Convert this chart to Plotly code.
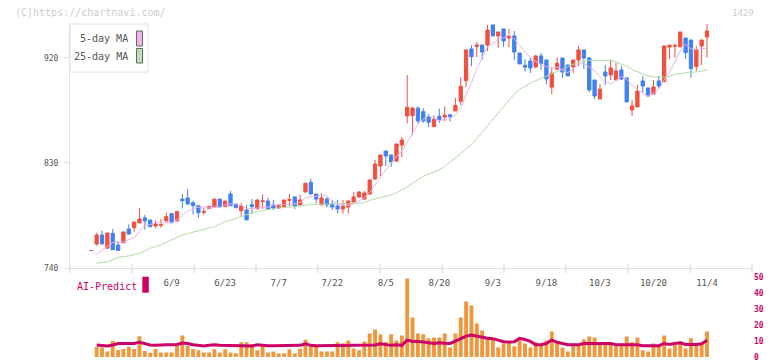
import plotly.graph_objects as go

W, H = 772, 361

# ---------------- data ----------------
tick_idx = [15, 25, 35, 45, 55, 65, 75, 85, 95, 105, 115]
tick_labels = ["6/9", "6/23", "7/7", "7/22", "8/5", "8/20", "9/3", "9/18", "10/3", "10/20", "11/4"]

opens = [755, 760.6, 768.3, 757, 769.7, 759.7, 761.7, 773.4, 774.6, 778.6,
         782.9, 781.1, 776, 776.6, 780.3, 786.6, 780.3, 799, 800, 796,
         793.4, 787.7, 790.9, 792.3, 799.1, 792.6, 803.4, 794.9, 789.1, 789.7,
         794.3, 790.6, 796.9, 797.4, 794, 791.4, 792.3, 798, 800.9, 794,
         805.1, 813.4, 803.4, 794, 799.1, 794.9, 793.1, 790.6, 792.3, 796.6,
         800.9, 799.1, 803.4, 816.3, 827.4, 840.3, 836.9, 831.7, 845.4, 870.3,
         870.6, 877, 874, 870, 861.1, 870, 869.4, 871.4, 874.6, 882.9,
         900.6, 927.7, 929.7, 931.1, 931.1, 948.3, 938.9, 944.9, 937.1, 938.9,
         924.3, 913.7, 917.4, 912.3, 921.7, 918.3, 895, 910.4, 920, 914,
         912.3, 918.3, 926.9, 920, 901.1, 884.9, 908, 905.4, 901.1, 909.7,
         902.9, 875.4, 878, 900.3, 894.3, 889.1, 900.3, 899.7, 929.4, 930,
         929.7, 937.1, 935.4, 912.6, 930.3, 938]
highs = [755, 770.3, 772, 770, 773.4, 763.1, 771.1, 777.4, 779.4, 791.4,
         785.4, 781.1, 781, 782, 787.4, 786.6, 789, 803.4, 807.7, 797.7,
         793.4, 791.4, 792.9, 799.1, 799.1, 797.4, 806, 794.9, 795.7, 794.3,
         799.1, 798.6, 803.1, 800.3, 798.3, 794.9, 798.3, 803.4, 801.7, 802.6,
         813.1, 816.6, 803.4, 804.3, 800.9, 798.3, 798.3, 798.3, 798, 805.1,
         806, 806, 816.6, 832.6, 836.9, 840.3, 836.9, 846.3, 852.3, 905.4,
         877.7, 878.6, 877, 872, 871, 876.6, 878.6, 871.4, 885.7, 903.4,
         926.9, 930.9, 933.7, 931.1, 948.3, 948.3, 942.3, 944.9, 944.9, 943.1,
         924.3, 918.9, 920, 922.6, 924.3, 918.3, 911.7, 920.6, 920, 914,
         918.3, 930.3, 926.9, 920.9, 901.1, 897.7, 914, 918.3, 915.7, 913.1,
         902.9, 884, 896.9, 904.6, 894.3, 901.1, 904.6, 930.3, 931.1, 932.6,
         942.3, 937.1, 935.4, 930.3, 935.4, 949.1]
lows = [755, 759.1, 760, 757, 755.4, 755.1, 761.7, 769, 771.1, 778.6,
        772.9, 775.4, 774.3, 774.6, 780.3, 778.9, 780.3, 791.1, 794.3, 786,
        782.9, 785.7, 790.9, 792.3, 792.3, 792.6, 793.4, 791.7, 784.9, 780.3,
        786.3, 790.6, 790.6, 790.6, 789.7, 790.6, 792.3, 792.9, 790.6, 794,
        805.1, 803.4, 795.4, 794, 792, 789.7, 787.1, 786.6, 786.6, 796.6,
        800, 798.3, 802.6, 815.4, 818.9, 827.4, 826.6, 830.9, 835.1, 864,
        853.9, 863.7, 864.5, 860.6, 861.1, 864.3, 865.7, 865.7, 874.6, 879.4,
        894.9, 912.9, 920.6, 918.6, 926, 938.9, 928.6, 929.4, 929.4, 918.3,
        914.9, 908.3, 907.1, 911.4, 909.7, 897.4, 889, 910.4, 902.9, 904.6,
        907.1, 913.1, 910.6, 890.9, 884.9, 884.9, 896.9, 901.1, 901.1, 901.1,
        882.3, 870.3, 878, 890, 886.6, 889.1, 894.3, 899.4, 919.1, 920.3,
        929, 919.4, 903.1, 908.9, 914, 920.3]
closes = [755, 768.3, 760.6, 770, 755.7, 755.1, 770.9, 769.1, 779.4, 782,
          780.3, 775.4, 777.7, 777, 784, 778.9, 788.3, 797.7, 794.9, 793.4,
          787.4, 788.3, 792.9, 799.1, 792.3, 797.4, 793.4, 791.7, 793.1, 781.4,
          792.6, 798.3, 797.4, 790.6, 791.4, 793.4, 798.3, 798.6, 793.1, 798.3,
          812.6, 803.4, 799.1, 800, 794, 792.3, 790.6, 793.1, 797.4, 800.9,
          805.1, 804.3, 815.4, 829.1, 836.9, 836, 830.9, 846.3, 849.7, 877.7,
          877.1, 866, 866, 864.9, 867.4, 867.1, 870.9, 869.7, 879.4, 895.7,
          926.9, 921.1, 931.1, 925.1, 944, 938.9, 942.3, 934.6, 938.9, 925.1,
          914.9, 912, 911.4, 921.7, 914.9, 902, 907, 915.5, 908, 904.6,
          918.3, 926.9, 920, 892.6, 887.4, 893.4, 904.6, 911.4, 908.9, 902,
          882.3, 878.9, 891.7, 896, 887.4, 895.1, 896, 930.3, 931, 930.6,
          942.3, 924.6, 910.9, 926.9, 935.4, 943.1]

ma5 = [None, 752, 755.5, 759, 761.9, 761.9, 762.5, 764.2, 766.0, 771.3,
       776.3, 777.2, 779.0, 778.5, 778.9, 778.6, 781.2, 785.2, 788.8, 790.6,
       792.3, 792.3, 791.4, 792.2, 792.0, 794.0, 795.0, 794.8, 793.6, 791.4,
       790.4, 791.4, 792.6, 792.1, 794.1, 794.2, 794.2, 794.5, 795.0, 796.3,
       800.2, 801.2, 801.3, 802.7, 801.8, 797.8, 795.2, 794.0, 793.5, 794.9,
       797.4, 800.2, 804.6, 811.0, 818.2, 824.3, 829.7, 835.8, 840.0, 848.1,
       856.3, 863.4, 867.3, 870.3, 868.3, 866.3, 867.3, 868.0, 870.9, 876.6,
       888.5, 898.6, 910.8, 920.0, 929.6, 932.0, 936.3, 937.0, 939.7, 936.0,
       931.2, 925.1, 920.5, 917.0, 915.0, 912.4, 911.4, 912.2, 909.5, 907.4,
       910.7, 914.7, 915.6, 912.5, 909.0, 904.1, 899.6, 897.9, 901.1, 904.1,
       901.8, 896.7, 892.8, 890.2, 887.3, 889.8, 893.2, 901.0, 908.0, 916.6,
       926.0, 931.8, 927.9, 927.1, 928.0, 928.2]
ma25 = [None, 744, 744.5, 745.4, 747, 749, 749.8, 750.3, 751.5, 752.6,
        754.5, 756.9, 758.3, 759.7, 762, 764, 766, 768.3, 769.5, 770.6,
        771.6, 772.6, 774, 775.4, 777.5, 779.7, 781, 782.6, 784.5, 786.3,
        787.3, 788.3, 789.3, 790.3, 790.8, 791.4, 792, 792.6, 792.8, 793.1,
        794, 794.6, 794.6, 794.8, 794.9, 794.9, 794.9, 795, 795, 795.2,
        795.4, 796, 798, 799, 800, 801, 802.6, 804.5, 806.9, 809.5,
        812.6, 815.5, 818.5, 820.5, 822.5, 824, 827, 830.5, 834, 838,
        842, 846, 851, 856, 862, 868, 873, 878, 884, 889,
        893, 896, 898.5, 900.5, 902.5, 904.5, 906.5, 908.5, 910.5, 912.5,
        914.5, 916.5, 917.2, 918, 918, 918, 918, 918, 916.5, 915,
        913, 910, 908, 906, 904.5, 903.8, 903.4, 903.4, 904.5, 906,
        906.8, 907.2, 907.5, 907.7, 908.5, 910]

volume = [None, 6.5, 6, 3.5, 10, 4.4, 5, 6.5, 5, 13,
          3.8, 2.7, 5, 2.9, 2.9, 2.9, 6.9, 13.5, 6.9, 5,
          4.2, 2.9, 2.9, 4.8, 2.9, 4.8, 2.9, 2.3, 9.2, 9.2,
          8, 4.2, 6.7, 2.9, 3.5, 2.3, 2.3, 4.8, 2.3, 5.4,
          11, 7.3, 6.7, 3.5, 3.5, 3.5, 9.2, 8.5, 10.4, 5.4,
          4.2, 9.8, 14.8, 17.3, 14.2, 9.2, 14.2, 10.4, 13.5, 49.2,
          24.8, 14.8, 14.2, 11.7, 12.3, 12.3, 14.8, 6.0, 14.8, 24.8,
          34.8, 32.3, 21.0, 16.7, 12.3, 11.7, 6.0, 8.5, 9.2, 6.7,
          12.3, 8.5, 6.0, 9.2, 7.3, 10.4, 16.0, 8.5, 6.0, 3.5,
          7.3, 7.3, 11, 12.9, 12.3, 8.5, 8.5, 7.9, 6.7, 7.3,
          12.9, 9.2, 12.3, 4.2, 3.5, 8.5, 7.3, 13.5, 5.4, 7.3,
          9.8, 5.4, 11.7, 8.5, 8.5, 16.0]
ai_predict = [None, 7.5, 7.2, 6.9, 7.5, 8.5, 8.5, 8.5, 8.5, 9.2,
              8.3, 7.5, 7.3, 7.7, 7.7, 7.7, 7.9, 8.8, 8.5, 7.7,
              7.3, 6.9, 7.3, 7.7, 7.3, 7.3, 7.1, 7.1, 7.1, 7.1,
              6.9, 7.7, 7.3, 7.1, 7.1, 7.1, 7.1, 7.1, 7.1, 7.3,
              8.3, 7.3, 7.1, 7.1, 7.1, 7.1, 7.1, 7.1, 7.1, 7.1,
              7.1, 7.1, 7.1, 7.5, 8.3, 7.7, 7.3, 7.7, 7.3, 10.6,
              9.8, 9.8, 9.6, 9.0, 8.5, 9.0, 8.7, 8.5, 10.0, 11.5,
              13.1, 13.75, 13.0, 12.1, 11.8, 11.5, 10.4, 9.6, 9.4, 9.6,
              11.7, 11.0, 9.8, 7.7, 7.7, 8.5, 10.6, 9.2, 8.5, 7.7,
              7.7, 7.7, 8.5, 8.5, 8.5, 8.5, 8.5, 8.5, 7.7, 7.7,
              7.7, 7.7, 7.7, 7.1, 7.1, 7.1, 7.1, 8.5, 7.9, 8.5,
              8.9, 7.9, 7.7, 7.9, 8.3, 10.5]

# ---------------- styling / layout helpers ----------------
FONT = "DejaVu Sans Mono"
RED = "#f05040"
BLUE = "#4080f0"
AXIS = "#e0e0e0"
TXT = "#555555"
MAG = "#cc0066"

def fx(px):
    return (px - 70) / 682.0

def fy(py):
    return 1 - py / H

x = list(range(len(closes)))

fig = go.Figure()

fig.add_trace(go.Scatter(x=x, y=ma25, mode="lines", line=dict(color="#b0dca4", width=1),
                         hoverinfo="skip", name="25-day MA"))
fig.add_trace(go.Scatter(x=x, y=ma5, mode="lines", line=dict(color="#e8b4ec", width=1),
                         hoverinfo="skip", name="5-day MA"))
fig.add_trace(go.Candlestick(
    x=x, open=opens, high=highs, low=lows, close=closes,
    increasing=dict(line=dict(color=RED, width=1), fillcolor=RED),
    decreasing=dict(line=dict(color=BLUE, width=1), fillcolor=BLUE),
    whiskerwidth=0, name="price"))

fig.add_trace(go.Bar(x=x, y=volume, xaxis="x2", yaxis="y2", marker=dict(color="#f0963c", line=dict(width=0)),
                     width=0.72, name="volume"))
fig.add_trace(go.Scatter(x=x, y=ai_predict, xaxis="x2", yaxis="y2", mode="lines",
                         line=dict(color=MAG, width=3), name="AI-Predict"))

xr = [-3.98, 123.4]
fig.update_layout(
    width=W, height=H,
    margin=dict(l=70, r=20, t=0, b=0, autoexpand=False),
    paper_bgcolor="white", plot_bgcolor="white",
    showlegend=False,
    boxgap=0.12,
    font=dict(family=FONT, color=TXT),
    xaxis=dict(domain=[0, 1], range=xr, anchor="y", showgrid=False, zeroline=False,
               showline=True, linecolor=AXIS, linewidth=1,
               tickmode="array", tickvals=tick_idx, ticktext=tick_labels,
               ticks="", tickfont=dict(size=9, color=TXT, family=FONT),
               ticklabelstandoff=6, rangeslider=dict(visible=False)),
    yaxis=dict(domain=[fy(268), fy(21.8)], range=[740, 951], showgrid=False, zeroline=False,
               showline=True, linecolor=AXIS, linewidth=1,
               tickmode="array", tickvals=[740, 830, 920], ticks="outside", ticklen=5,
               tickcolor=AXIS, tickfont=dict(size=8, color=TXT, family=FONT),
               ticklabelstandoff=4),
    xaxis2=dict(domain=[0, 1], range=xr, anchor="y2", visible=False),
    yaxis2=dict(domain=[fy(357), fy(277.3)], range=[0, 50], anchor="x2", side="right",
                showgrid=False, zeroline=False, showline=False, ticks="",
                tickmode="array", tickvals=[0, 10, 20, 30, 40, 50],
                tickfont=dict(size=8, color=MAG, family=FONT, weight="bold"),
                ticklabeloverflow="allow", ticklabelstandoff=1),
)

shapes = []
# x tick marks on the main axis (evenly spaced grid ticks)
for k in range(12):
    shapes.append(dict(type="line", xref="paper", yref="paper", x0=k / 11, x1=k / 11,
                       y0=fy(273), y1=fy(264), line=dict(color=AXIS, width=1.5)))
# legend box
shapes.append(dict(type="rect", xref="paper", yref="paper", x0=fx(70), x1=fx(148),
                   y0=fy(72), y1=fy(24), line=dict(color=AXIS, width=1), fillcolor="white",
                   layer="above"))
shapes.append(dict(type="rect", xref="paper", yref="paper", x0=fx(136.5), x1=fx(142.5),
                   y0=fy(46), y1=fy(31), line=dict(color="#666666", width=1), fillcolor="#ecb8ec",
                   layer="above"))
shapes.append(dict(type="rect", xref="paper", yref="paper", x0=fx(136.5), x1=fx(142.5),
                   y0=fy(63), y1=fy(48.5), line=dict(color="#666666", width=1), fillcolor="#bce0b4",
                   layer="above"))
# AI-Predict marker
shapes.append(dict(type="rect", xref="paper", yref="paper", x0=fx(142.3), x1=fx(148.8),
                   y0=fy(292.7), y1=fy(276.7), line=dict(width=0), fillcolor=MAG, layer="above"))
fig.update_layout(shapes=shapes)

ann = [
    dict(text="(C)https://chartnavi.com/", x=fx(13), y=fy(12.5), xanchor="left", yanchor="middle",
         font=dict(size=10, color="#cccccc", family=FONT)),
    dict(text="1429", x=fx(756), y=fy(12.5), xanchor="right", yanchor="middle",
         font=dict(size=9, color="#cccccc", family=FONT)),
    dict(text="5-day MA", x=fx(130), y=fy(39), xanchor="right", yanchor="middle",
         font=dict(size=10, color=TXT, family=FONT)),
    dict(text="25-day MA", x=fx(130), y=fy(56.5), xanchor="right", yanchor="middle",
         font=dict(size=10, color=TXT, family=FONT)),
    dict(text="AI-Predict", x=fx(75), y=fy(286), xanchor="left", yanchor="middle",
         font=dict(size=10, color=MAG, family=FONT)),
]
for a in ann:
    a.update(xref="paper", yref="paper", showarrow=False)
fig.update_layout(annotations=ann)

fig.write_html("out.html", config={"displayModeBar": False},
               post_script="document.body.style.margin='0';document.body.style.overflow='hidden';")
